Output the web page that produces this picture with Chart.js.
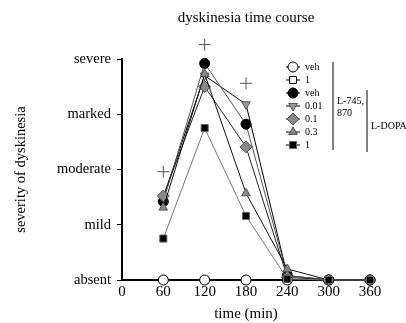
<!DOCTYPE html>
<html>
<head>
<meta charset="utf-8">
<script src="https://cdn.jsdelivr.net/npm/chart.js@4.4.0/dist/chart.umd.min.js"></script>
<style>
  html, body { margin: 0; padding: 0; background: #fff; }
  #wrap { width: 406px; height: 323px; }
</style>
</head>
<body>
<div id="wrap"><canvas id="myChart" width="406" height="323"></canvas></div>
<script>
const times = [60, 120, 180, 240, 300, 360];
const severityLabels = ['absent', 'mild', 'moderate', 'marked', 'severe'];

const vehVeh = [0, 0, 0, 0, 0, 0];
const drugVeh = [0, 0, 0, 0, 0, 0];
const dopaVeh = [1.42, 3.92, 2.82, 0.08, 0, 0];
const dopa001 = [1.5, 3.7, 3.18, 0.08, 0, 0];
const dopa01 = [1.52, 3.5, 2.41, 0.05, 0, 0];
const dopa03 = [1.31, 3.73, 1.57, 0.2, 0, 0];
const dopa1 = [0.75, 2.75, 1.16, 0.02, 0, 0];

// significance marks (+) above the curves
const plusTimes = [60, 120, 180];
const plusValues = [1.96, 4.26, 3.56];

const legendNames = ['veh', '1', 'veh', '0.01', '0.1', '0.3', '1'];

const serif = 'Liberation Serif';

function series(label, values, style, fill, border, line, order) {
    return {
        label: label,
        data: times.map((t, i) => ({x: t, y: values[i]})),
        pointStyle: style,
        pointRadius: style === 'rectRot' ? 6 : 5,
        pointBackgroundColor: fill,
        pointBorderColor: border,
        pointBorderWidth: 1,
        borderColor: line,
        borderWidth: 1,
        showLine: true,
        clip: false,
        order: order
    };
}

const datasets = [
    series('veh', vehVeh, 'circle', '#fff', '#000', '#000', 1),
    series('1', drugVeh, 'rect', '#fff', '#000', '#000', 2),
    series('veh', dopaVeh, 'circle', '#000', '#000', '#555', 5),
    series('0.01', dopa001, 'triangle', '#999', '#555', '#000', 6),
    series('0.1', dopa01, 'rectRot', '#888', '#555', '#222', 4),
    series('0.3', dopa03, 'triangle', '#888', '#555', '#111', 3),
    series('1', dopa1, 'rect', '#000', '#666', '#777', 0)
];
// inverted triangle
datasets[3].pointRotation = 180;

const extrasPlugin = {
    id: 'extras',
    afterDraw(chart) {
        const ctx = chart.ctx;
        const area = chart.chartArea;
        const xs = chart.scales.x, ys = chart.scales.y;
        ctx.save();

        // title centred over the plot area
        ctx.fillStyle = '#000';
        ctx.font = '15px "' + serif + '"';
        ctx.textAlign = 'center';
        ctx.textBaseline = 'middle';
        ctx.fillText('dyskinesia time course', (area.left + area.right) / 2, 18);

        // plus marks
        ctx.strokeStyle = '#555';
        ctx.lineWidth = 1;
        plusTimes.forEach((t, i) => {
            Chart.helpers.drawPoint(ctx, {pointStyle: 'cross', radius: 6, rotation: 0, borderWidth: 1},
                xs.getPixelForValue(t), ys.getPixelForValue(plusValues[i]));
        });

        // side legend
        const x0 = 293, y0 = 67, step = 13;
        for (let i = 0; i < 7; i++) {
            const ds = chart.data.datasets[i];
            const y = y0 + i * step;
            ctx.strokeStyle = '#000';
            ctx.lineWidth = 1;
            ctx.beginPath();
            ctx.moveTo(x0 - 7, y);
            ctx.lineTo(x0 + 7, y);
            ctx.stroke();
            ctx.fillStyle = ds.pointBackgroundColor;
            ctx.strokeStyle = ds.pointBorderColor;
            Chart.helpers.drawPoint(ctx, {
                pointStyle: ds.pointStyle,
                radius: ds.pointRadius,
                rotation: ds.pointRotation || 0,
                borderWidth: 1
            }, x0, y);
            ctx.fillStyle = '#000';
            ctx.font = '10px "' + serif + '"';
            ctx.textBaseline = 'middle';
            ctx.textAlign = 'left';
            ctx.fillText(legendNames[i], x0 + 12, y);
        }
        ctx.strokeStyle = '#000';
        ctx.lineWidth = 1;
        ctx.beginPath();
        ctx.moveTo(333, 62);
        ctx.lineTo(333, 150);
        ctx.moveTo(367, 90);
        ctx.lineTo(367, 152);
        ctx.stroke();
        ctx.font = '10px "' + serif + '"';
        ctx.fillText('L-745,', 337, 101);
        ctx.fillText('870', 337, 113);
        ctx.fillText('L-DOPA', 371, 126);
        ctx.restore();
    }
};

const ctx = document.getElementById('myChart').getContext('2d');
const myChart = new Chart(ctx, {
    type: 'scatter',
    data: { datasets: datasets },
    plugins: [extrasPlugin],
    options: {
        responsive: false,
        animation: false,
        layout: { padding: { left: 8, right: 36, top: 59, bottom: 0 } },
        plugins: {
            legend: { display: false },
            tooltip: { enabled: false },
            title: { display: false }
        },
        scales: {
            x: {
                min: 0,
                max: 360,
                afterFit(scale) { scale.height = 43; },
                ticks: {
                    stepSize: 60,
                    color: '#000',
                    padding: 3,
                    font: { family: serif, size: 15 }
                },
                grid: { display: true, drawOnChartArea: false, drawTicks: false },
                border: { color: '#000', width: 2 },
                title: {
                    display: true,
                    text: 'time (min)',
                    color: '#000',
                    padding: { top: 0, bottom: 0 },
                    font: { family: serif, size: 15 }
                }
            },
            y: {
                min: 0,
                max: 4,
                afterFit(scale) { scale.width = 114; },
                ticks: {
                    stepSize: 1,
                    color: '#000',
                    padding: 6,
                    font: { family: serif, size: 14.5 },
                    callback: (v) => severityLabels[v]
                },
                grid: { display: true, drawOnChartArea: false, tickLength: 5, color: '#000', tickColor: '#000' },
                border: { color: '#000', width: 2 },
                title: {
                    display: true,
                    text: 'severity of dyskinesia',
                    color: '#000',
                    padding: { top: 4, bottom: 0 },
                    font: { family: serif, size: 14.5 }
                }
            }
        }
    }
});
</script>
</body>
</html>
